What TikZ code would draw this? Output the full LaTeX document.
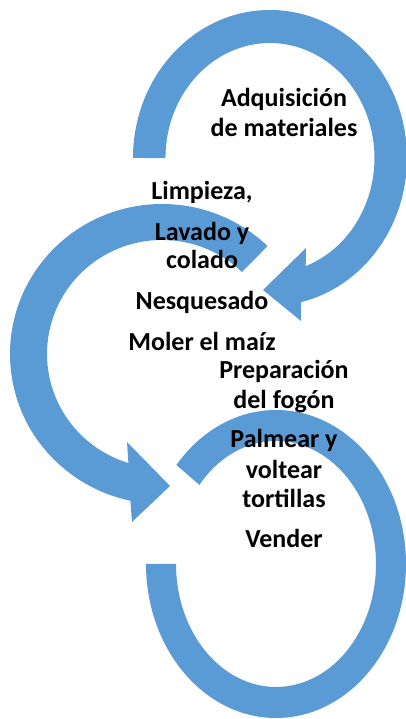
\documentclass[tikz,border=0pt]{standalone}
\usepackage{fontspec}
\setmainfont{Carlito}
\definecolor{arrowblue}{RGB}{91,155,213}
\tikzset{
  band/.style={fill=arrowblue,draw=none},
  lbl/.style={font=\bfseries\fontsize{26}{30}\selectfont,anchor=base,inner sep=0pt},
}
\begin{document}
\begin{tikzpicture}[x=1pt,y=1pt]
\useasboundingbox (0,0) rectangle (406,719);
% top arrow
\fill[band] (133,561) arc[start angle=180,end angle=-77,x radius=137,y radius=148]
  -- (301,398) -- (263,429) -- (306,471) -- (305.7,452.9)
  arc[start angle=-70,end angle=180,x radius=104.5,y radius=115] -- cycle;
% middle arrow
\fill[band] (267.6,472.9) arc[start angle=46,end angle=258,x radius=152,y radius=150]
  -- (132,197) -- (170,233) -- (127,277) -- (128.4,256.0)
  arc[start angle=253,end angle=46,x radius=115,y radius=114] -- cycle;
% bottom arrow
\fill[band] (146,155) arc[start angle=180,end angle=500,x radius=130,y radius=154]
  -- (199.4,234.1)
  arc[start angle=500,end angle=180,x radius=100,y radius=123] -- cycle;
% texts
\node[lbl] (adq1) at (284,612) {Adquisición};
\node[lbl] (adq2) at (284,582) {de materiales};
\node[lbl] (limp) at (202,519) {Limpieza,};
\node[lbl] (lav1) at (202,478) {Lavado y};
\node[lbl] (lav2) at (202,450) {colado};
\node[lbl] (nesq) at (202,409) {Nesquesado};
\node[lbl] (mol) at (202,368) {Moler el maíz};
\node[lbl] (prep1) at (284,340) {Preparación};
\node[lbl] (prep2) at (284,310) {del fogón};
\node[lbl] (palm1) at (284,271) {Palmear y};
\node[lbl] (palm2) at (284,240) {voltear};
\node[lbl] (palm3) at (284,211) {tortillas};
\node[lbl] (vend) at (284,171) {Vender};
\end{tikzpicture}
\end{document}
